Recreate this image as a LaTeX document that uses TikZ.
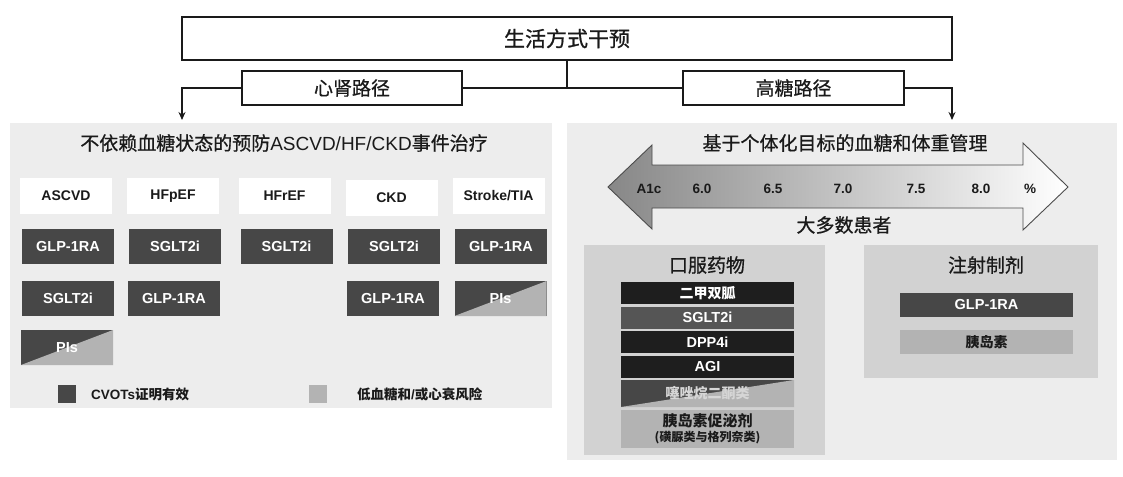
\documentclass[tikz,border=0pt]{standalone}
\usepackage{fontspec}
\setmainfont{Liberation Sans}
\newfontfamily\cjk{Noto Sans CJK SC}
\newfontfamily\cjkm{Noto Sans CJK SC}[FakeBold=0.7]
\usetikzlibrary{arrows.meta}
\definecolor{panelbg}{HTML}{EDEDED}
\definecolor{darkbox}{HTML}{474747}
\definecolor{lightbox}{HTML}{B3B3B3}
\definecolor{subbg}{HTML}{D2D2D2}
\definecolor{blackbox}{HTML}{1E1E1E}
\definecolor{midbox}{HTML}{555555}
\definecolor{txt}{HTML}{1A1A1A}
\definecolor{tzdtxt}{HTML}{D6D6D6}
\begin{document}
\begin{tikzpicture}[x=1pt,y=-1pt,
  frame/.style={draw=txt, line width=1.3pt, fill=white, inner sep=0pt, text=txt},
  conn/.style={draw=txt, line width=1.8pt},
  arr/.style={conn, -{Stealth[length=8pt,width=7pt]}},
  panel/.style={fill=panelbg, draw=none},
  hdr/.style={fill=white, minimum width=92, minimum height=36, inner sep=0pt, text=txt, font=\fontsize{14}{16}\selectfont\bfseries},
  drug/.style={fill=darkbox, minimum width=92, minimum height=35, inner sep=0pt, text=white, font=\fontsize{14.5}{16}\selectfont\bfseries},
  split/.style={drug, path picture={\fill[lightbox] (path picture bounding box.south west) -- (path picture bounding box.north east) -- (path picture bounding box.south east) -- cycle;}},
  bar/.style={minimum width=173, minimum height=22, inner sep=0pt, text=white, font=\fontsize{14.5}{16}\selectfont\bfseries},
  ptitle/.style={text=txt, inner sep=0pt, font=\fontsize{19}{21}\selectfont},
  num/.style={text=txt, inner sep=0pt, font=\fontsize{13.5}{15}\selectfont\bfseries},
  legsq/.style={minimum size=18, inner sep=0pt},
  legtxt/.style={anchor=west, inner sep=0pt, text=txt, font=\fontsize{13.5}{15}\selectfont\bfseries}
]
\useasboundingbox (0,0) rectangle (1123,476);
\fill[white] (0,0) rectangle (1123,476);

% panels
\fill[panel] (10,123) rectangle (552,408);
\fill[panel] (567,123) rectangle (1117,460);

% top structure
\node[frame, minimum width=770, minimum height=43, font=\cjkm\fontsize{21}{23}\selectfont] (top) at (567,38.5) {生活方式干预};
\coordinate (j) at (567,88);
\coordinate (lt) at (182,120);
\coordinate (rt) at (952,120);
\node[frame, minimum width=220, minimum height=34, font=\cjkm\fontsize{19}{21}\selectfont] (lb) at (352,88) {心肾路径};
\node[frame, minimum width=221, minimum height=34, font=\cjkm\fontsize{19}{21}\selectfont] (rb) at (793.5,88) {高糖路径};
\draw[conn] (top.south) -- (j);
\draw[conn] (j) -- (lb.east);
\draw[conn] (j) -- (rb.west);
\draw[arr] (lb.west) -| (lt);
\draw[arr] (rb.east) -| (rt);

% left panel
\node[ptitle] (ltitle) at (284,143) {{\cjkm 不依赖血糖状态的预防}ASCVD/HF/CKD{\cjkm 事件治疗}};

\node[hdr] (h1) at (66,196) {ASCVD};
\node[hdr] (h2) at (173,196) {HFpEF};
\node[hdr] (h3) at (284.5,196) {HFrEF};
\node[hdr] (h4) at (391.5,197.5) {CKD};
\node[hdr] (h5) at (498.5,196) {Stroke/TIA};

\node[drug] (a1) at (68,246.5) {GLP-1RA};
\node[drug] (a2) at (68,298.5) {SGLT2i};
\node[split] (a3) at (67,347.5) {PIs};
\node[drug] (b1) at (175,246.5) {SGLT2i};
\node[drug] (b2) at (174,298.5) {GLP-1RA};
\node[drug] (c1) at (286.5,246.5) {SGLT2i};
\node[drug] (d1) at (394,246.5) {SGLT2i};
\node[drug] (d2) at (393,298.5) {GLP-1RA};
\node[drug] (e1) at (501,246.5) {GLP-1RA};
\node[split] (e2) at (500.5,298.5) {PIs};

\node[legsq, fill=darkbox] (lg1) at (67,394) {};
\node[legtxt] (lt1) at (91,394) {CVOTs{\cjk\bfseries 证明有效}};
\node[legsq, fill=lightbox] (lg2) at (318,394) {};
\node[legtxt] (lt2) at (357,394) {{\cjk\bfseries 低血糖和}/{\cjk\bfseries 或心衰风险}};

% right panel: double arrow
\shade[left color=black!47, right color=white, draw=black!70, line width=0.9pt]
  (608,187) -- (652,145) -- (652,165) -- (1023,165) -- (1023,143) -- (1068,187)
  -- (1023,230) -- (1023,208) -- (652,208) -- (652,229) -- cycle;
\node[ptitle] (rtitle) at (845,143) {\cjkm 基于个体化目标的血糖和体重管理};
\node[ptitle] (most) at (844,225) {\cjkm 大多数患者};
\node[num] (n0) at (649,189) {A1c};
\node[num] (n1) at (702,189) {6.0};
\node[num] (n2) at (773,189) {6.5};
\node[num] (n3) at (843,189) {7.0};
\node[num] (n4) at (916,189) {7.5};
\node[num] (n5) at (981,189) {8.0};
\node[num] (n6) at (1030,189) {\%};

% oral drugs
\fill[subbg] (584,245) rectangle (825,455);
\node[ptitle] (oral) at (707,265) {\cjkm 口服药物};
\node[bar, fill=blackbox, font=\cjk\bfseries\fontsize{14}{16}\selectfont] (o1) at (707.5,293) {二甲双胍};
\node[bar, fill=midbox] (o2) at (707.5,317.5) {SGLT2i};
\node[bar, fill=blackbox] (o3) at (707.5,342) {DPP4i};
\node[bar, fill=blackbox] (o4) at (707.5,366.5) {AGI};
\node[bar, fill=darkbox, minimum height=27, text=tzdtxt, font=\cjk\bfseries\fontsize{14}{16}\selectfont,
  path picture={\fill[lightbox] (path picture bounding box.south west) -- (path picture bounding box.north east) -- (path picture bounding box.south east) -- cycle;}] (o5) at (707.5,393.5) {噻唑烷二酮类};
\node[bar, fill=lightbox, minimum height=38.5, text=txt, align=center] (o6) at (707.5,429) {{\cjk\bfseries\fontsize{15}{18}\selectfont 胰岛素促泌剂}\\[-1pt]{\cjk\bfseries\fontsize{12}{14}\selectfont (磺脲类与格列奈类)}};

% injections
\fill[subbg] (864,245) rectangle (1098,378);
\node[ptitle] (inj) at (986,265) {\cjkm 注射制剂};
\node[bar, fill=darkbox, minimum height=24] (i1) at (986.5,305) {GLP-1RA};
\node[bar, fill=lightbox, minimum height=24, text=txt, font=\cjk\bfseries\fontsize{14}{16}\selectfont] (i2) at (986.5,342) {胰岛素};
\end{tikzpicture}
\end{document}
